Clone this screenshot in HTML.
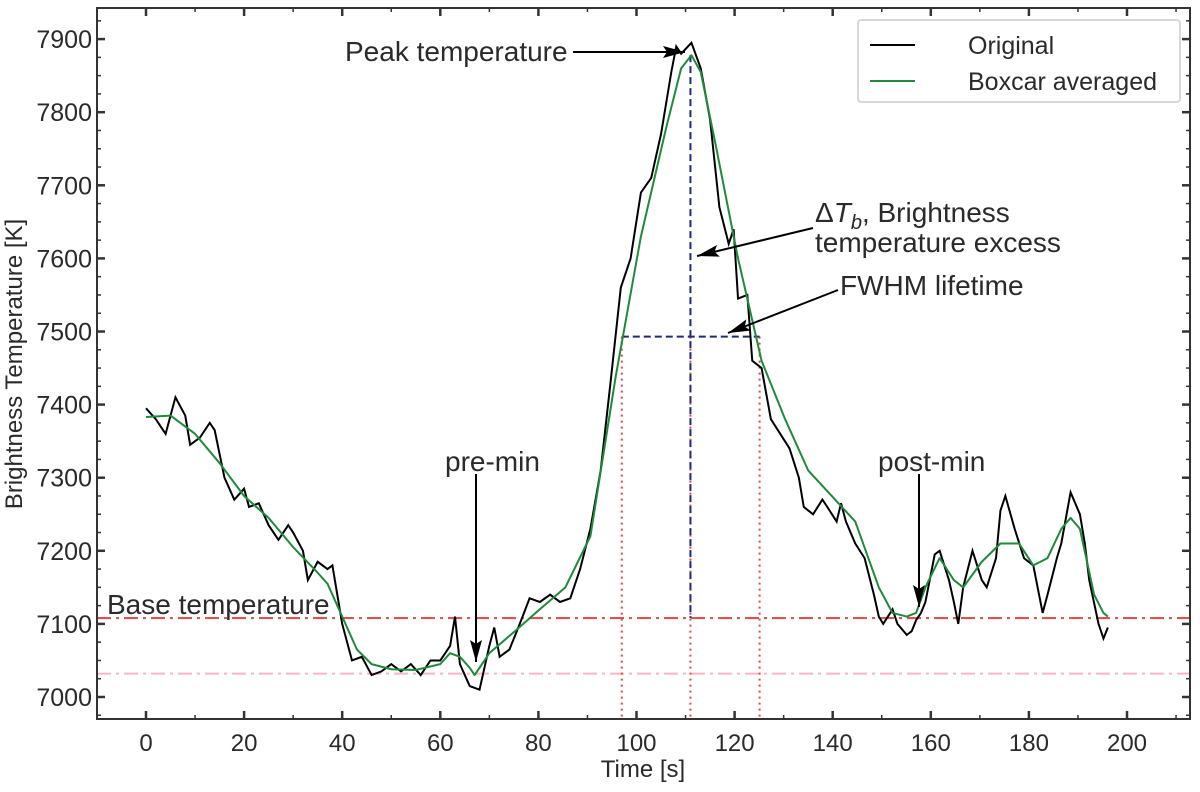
<!DOCTYPE html>
<html><head><meta charset="utf-8"><style>
body{margin:0;background:#fff;}
svg text{font-family:"Liberation Sans",sans-serif;fill:#2a2a2a;}
</style></head><body>
<svg id="chart" width="1200" height="787" xmlns="http://www.w3.org/2000/svg">
<defs>
<marker id="ah2" markerWidth="22" markerHeight="12" refX="22" refY="6" orient="auto" markerUnits="userSpaceOnUse" viewBox="0 0 22 12"><path d="M0,0 L22,6 L0,12 L4,6 Z" fill="#000"/></marker>
</defs>
<g id="plot"></g>
</svg>
<script>
const tOrig=[0,2,4,6,8,9,11,13,14,16,18,20,21,23,25,27,29,30,32,33,35,37,38,40,42,44,46,48,50,52,54,56,58,60,62,63,64,66,68,70,71,72.1,74.1,76.2,78.2,80.3,82.4,84.4,86.5,88.5,90.6,92.7,94.7,96.8,98.8,100.9,103,105,107.1,108.1,109.1,111.2,113.1,115,116.9,118.8,119.8,120.7,122.6,123.6,125.5,127.4,129.3,131.2,133.1,134.1,136,137.9,138.9,140.8,141.7,142.7,144.6,146.5,148.4,149.4,150.3,152.2,153.2,155.1,156.1,157,158,158.9,160.8,161.8,163.7,164.7,165.6,166.6,168.5,170.4,171.4,173.3,174.2,175.2,177.1,179,180.9,182.8,183.8,185.7,186.6,188.5,190.4,191.4,192.3,194.2,195.2,196.1];
const vOrig=[7395,7380,7360,7410,7385,7345,7355,7375,7365,7300,7270,7285,7260,7265,7235,7215,7235,7225,7200,7160,7185,7175,7180,7100,7050,7055,7030,7035,7045,7035,7045,7030,7050,7050,7070,7110,7045,7015,7010,7070,7095,7055,7065,7100,7135,7130,7140,7130,7135,7175,7230,7310,7430,7560,7600,7690,7710,7770,7855,7890,7880,7895,7860,7790,7670,7620,7640,7545,7550,7460,7450,7380,7360,7340,7300,7260,7250,7270,7260,7240,7265,7240,7210,7190,7140,7110,7100,7120,7100,7085,7090,7105,7115,7130,7195,7200,7160,7130,7100,7150,7200,7160,7150,7190,7255,7275,7230,7190,7180,7115,7140,7190,7210,7280,7250,7210,7160,7100,7080,7095];
const tBox=[0,5,10,15,20,25,30,35,37,40,43,46,50,55,60,62,64,66,67,70,75.2,80.3,85.5,90.6,95.8,100.9,106.1,109.1,111.2,113.1,116,120.7,125.5,130.3,135,139.8,144.6,149.4,152.2,155.1,157,158.9,161.8,164.7,166.6,170.4,174.2,178,180.9,183.8,186.6,188.5,190.4,193.3,195.2,196.1];
const vBox=[7383,7385,7360,7320,7275,7245,7205,7170,7155,7110,7065,7045,7038,7037,7045,7060,7055,7040,7030,7060,7090,7120,7150,7220,7440,7630,7780,7860,7878,7855,7760,7600,7460,7380,7310,7275,7240,7150,7115,7110,7115,7150,7190,7160,7150,7185,7210,7210,7180,7190,7230,7245,7230,7140,7115,7110];
const xTicks=[0,20,40,60,80,100,120,140,160,180,200];
const yTicks=[7000,7100,7200,7300,7400,7500,7600,7700,7800,7900];
const baseTemp=7108, lowTemp=7032, peakT=111, peakV=7878, halfV=7493, fwhmL=97, fwhmR=125.1;

const X=t=>146+4.905*t, Y=v=>697-(v-7000)*0.731;
const L=97,R=1190,T=8,B=719;
const g=document.getElementById('plot');
const NS='http://www.w3.org/2000/svg';
function mk(tag,attrs,parent){const e=document.createElementNS(NS,tag);for(const k in attrs)e.setAttribute(k,attrs[k]);(parent||g).appendChild(e);return e;}

let e=mk('line',{x1:L,x2:R,y1:Y(baseTemp),y2:Y(baseTemp),stroke:'#d9534f','stroke-width':2.2,'stroke-dasharray':'14 5 3 5'});


e=mk('line',{x1:L,x2:R,y1:Y(lowTemp),y2:Y(lowTemp),stroke:'#f7b6c2','stroke-width':2,'stroke-dasharray':'14 5 3 5'});


[fwhmL,peakT,fwhmR].forEach(t=>{
  const d=mk('line',{x1:X(t),x2:X(t),y1:Y(halfV),y2:B,stroke:'#e04848','stroke-width':2,'stroke-dasharray':'2 4'});
  
  
});
e=mk('line',{x1:X(peakT),x2:X(peakT),y1:Y(peakV),y2:Y(baseTemp),stroke:'#1f2a7a','stroke-width':2,'stroke-dasharray':'7 4'});


e=mk('line',{x1:X(fwhmL),x2:X(fwhmR),y1:Y(halfV),y2:Y(halfV),stroke:'#1f2a7a','stroke-width':2,'stroke-dasharray':'7 4'});



e=mk('polyline',{points:tOrig.map((t,i)=>X(t)+','+Y(vOrig[i])).join(' '),fill:'none',stroke:'#000','stroke-width':2});


e=mk('polyline',{points:tBox.map((t,i)=>X(t)+','+Y(vBox[i])).join(' '),fill:'none',stroke:'#1f8a3a','stroke-width':2,'stroke-linejoin':'round'});



e=mk('rect',{x:L,y:T,width:R-L,height:B-T,fill:'none',stroke:'#333','stroke-width':2});


xTicks.forEach(t=>{
  mk('line',{x1:X(t),x2:X(t),y1:B,y2:B-8,stroke:'#333','stroke-width':2.5});
  mk('line',{x1:X(t),x2:X(t),y1:T,y2:T+8,stroke:'#333','stroke-width':2.5});
  const s=mk('text',{x:X(t),y:B+32,'text-anchor':'middle','font-size':24});s.textContent=t;
  
  
});
for(let t=-10;t<=210;t+=10){if(t%20===0)continue;const x=X(t);if(x<L||x>R)continue;
  mk('line',{x1:x,x2:x,y1:B,y2:B-4,stroke:'#333','stroke-width':1.5});mk('line',{x1:x,x2:x,y1:T,y2:T+4,stroke:'#333','stroke-width':1.5});}
yTicks.forEach(v=>{
  mk('line',{x1:L,x2:L+8,y1:Y(v),y2:Y(v),stroke:'#333','stroke-width':2.5});
  mk('line',{x1:R,x2:R-8,y1:Y(v),y2:Y(v),stroke:'#333','stroke-width':2.5});
  const s=mk('text',{x:L-5,y:Y(v)+9,'text-anchor':'end','font-size':25});s.textContent=v;
  
  
});
for(let v=6975;v<=7950;v+=25){if(v%100===0)continue;const y=Y(v);if(y<T||y>B)continue;
  mk('line',{x1:L,x2:L+4,y1:y,y2:y,stroke:'#333','stroke-width':1.5});mk('line',{x1:R,x2:R-4,y1:y,y2:y,stroke:'#333','stroke-width':1.5});}

e=mk('text',{x:643,y:777,'text-anchor':'middle','font-size':24});e.textContent='Time [s]';


e=mk('text',{x:22,y:364,'text-anchor':'middle','font-size':24,transform:'rotate(-90 22 364)'});e.textContent='Brightness Temperature [K]';



function ann(name,txt,x,y){const s=mk('text',{x:x,y:y,'font-size':28});s.textContent=txt;return s;}
ann('peak-temperature-label','Peak temperature',345,61);
mk('line',{x1:573,y1:52,x2:685,y2:52,stroke:'#000','stroke-width':2,'marker-end':'url(#ah2)'});
const dt=ann('delta-tb-label','',815,222);
dt.innerHTML='Δ<tspan font-style="italic">T</tspan><tspan font-style="italic" font-size="20" dy="7">b</tspan><tspan dy="-7">, Brightness</tspan>';
ann('delta-tb-label-line2','temperature excess',815,252);
mk('line',{x1:813,y1:228,x2:697,y2:256,stroke:'#000','stroke-width':2,'marker-end':'url(#ah2)'});
ann('fwhm-lifetime-label','FWHM lifetime',840,295);
mk('line',{x1:838,y1:290,x2:728,y2:333,stroke:'#000','stroke-width':2,'marker-end':'url(#ah2)'});
ann('pre-min-label','pre-min',445,471);
mk('line',{x1:476,y1:474,x2:476,y2:662,stroke:'#000','stroke-width':2,'marker-end':'url(#ah2)'});
ann('post-min-label','post-min',878,471);
mk('line',{x1:919,y1:474,x2:919,y2:607,stroke:'#000','stroke-width':2,'marker-end':'url(#ah2)'});
ann('base-temperature-label','Base temperature',107,614);

const lg=mk('g',{});


mk('rect',{x:858,y:20,width:322,height:82,fill:'#fff',stroke:'#ccc','stroke-width':1.5,rx:3},lg);
mk('line',{x1:870,x2:915,y1:45,y2:45,stroke:'#000','stroke-width':2},lg);
mk('line',{x1:870,x2:915,y1:81,y2:81,stroke:'#1f8a3a','stroke-width':2},lg);
e=mk('text',{x:968,y:54,'font-size':25},lg);e.textContent='Original';


e=mk('text',{x:968,y:90,'font-size':25},lg);e.textContent='Boxcar averaged';


</script>
</body></html>
